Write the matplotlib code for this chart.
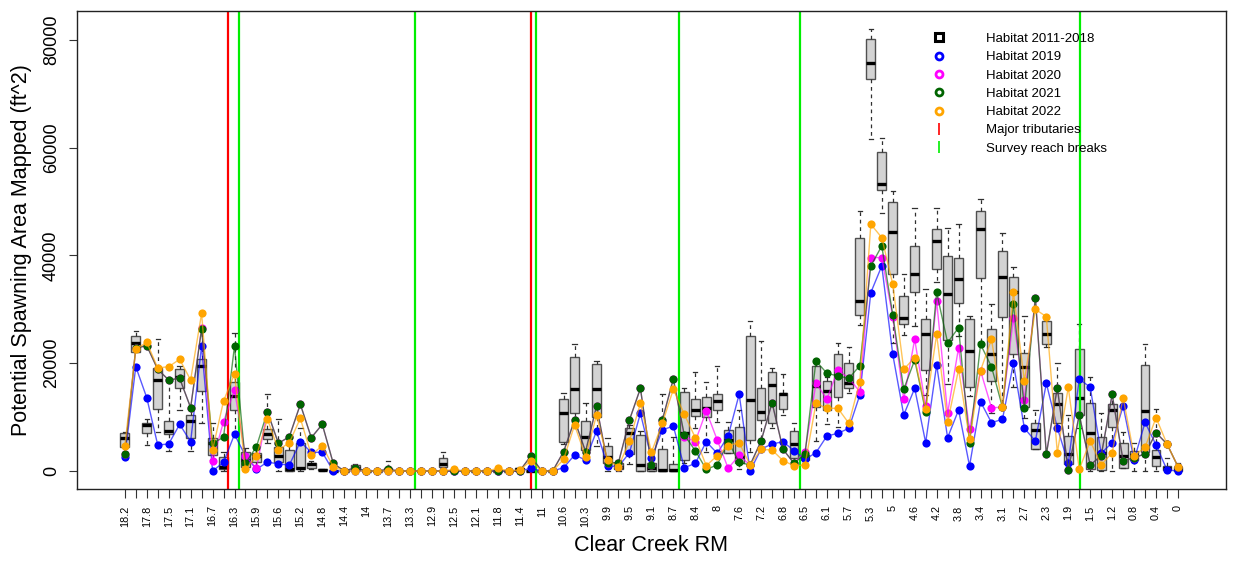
import numpy as np
import matplotlib
matplotlib.use("Agg")
import matplotlib.pyplot as plt
from matplotlib.lines import Line2D

plt.rcParams['font.family'] = ['Liberation Sans', 'DejaVu Sans']

# river mile of each 1000 ft survey section, upstream to downstream
rm_labels = ['18.2', '18', '17.8', '17.6', '17.5', '17.3', '17.1', '16.9', '16.7', '16.5',
             '16.3', '16.1', '15.9', '15.8', '15.6', '15.4', '15.2', '15', '14.8', '14.6',
             '14.4', '14.2', '14', '13.9', '13.7', '13.5', '13.3', '13.1', '12.9', '12.7',
             '12.5', '12.3', '12.1', '12', '11.8', '11.6', '11.4', '11.2', '11', '10.8',
             '10.6', '10.5', '10.3', '10.1', '9.9', '9.7', '9.5', '9.3', '9.1', '8.9',
             '8.7', '8.6', '8.4', '8.2', '8', '7.8', '7.6', '7.4', '7.2', '7',
             '6.8', '6.7', '6.5', '6.3', '6.1', '5.9', '5.7', '5.5', '5.3', '5.1',
             '5', '4.8', '4.6', '4.4', '4.2', '4', '3.8', '3.6', '3.4', '3.3',
             '3.1', '2.9', '2.7', '2.5', '2.3', '2.1', '1.9', '1.7', '1.5', '1.4',
             '1.2', '1', '0.8', '0.6', '0.4', '0.2', '0']

# 2011-2018 summary per section (whisker low, Q1, median, Q3, whisker high)
box_lo = [4300, 22000, 4830, 7300, 3770, 11320, 3770, 8850, 2000, 0,
          7300, 300, 1000, 5200, 0, 0, 0, 300, 0, 0,
          0, 0, 0, 0, 0, 0, 0, 0, 0, 300,
          0, 0, 0, 0, 0, 0, 0, 0, 0, 0,
          5000, 9000, 3000, 4640, 0, 0, 1300, 0, 0, 0,
          0, 1500, 8000, 3590, 9000, 3280, 370, 3590, 5750, 7920,
          10400, 1000, 1500, 5630, 8660, 8230, 14540, 27100, 61560, 47950,
          23700, 25240, 26910, 14110, 35000, 16080, 25060, 14000, 24000, 10700,
          12000, 15530, 9780, 4000, 23000, 8000, 500, 8000, 0, 0,
          0, 500, 0, 0, 0, 0, 0]
box_q1 = [4500, 22150, 7110, 11450, 6870, 15340, 6190, 14850, 2970, 310,
          11320, 800, 1730, 5880, 1730, 0, 310, 500, 100, 0,
          0, 200, 0, 0, 0, 0, 0, 0, 0, 680,
          0, 0, 0, 0, 0, 0, 0, 0, 0, 0,
          5440, 10830, 3900, 10080, 1420, 310, 3090, 0, 0, 0,
          0, 2040, 10210, 9960, 11320, 3280, 1420, 5750, 9470, 8850,
          11450, 2350, 2000, 11820, 11320, 13670, 15340, 28950, 72760, 52150,
          36500, 27220, 33290, 18750, 37490, 24310, 31120, 15530, 35880, 16700,
          28640, 21720, 11940, 4080, 23510, 8970, 1240, 10390, 310, 190,
          8100, 620, 2040, 3590, 990, 100, 0]
box_med = [6100, 23700, 8600, 16890, 7420, 17380, 9340, 19550, 5130, 680,
           13920, 2040, 2780, 6800, 2780, 300, 500, 1240, 200, 0,
           0, 500, 0, 0, 300, 0, 0, 0, 0, 1300,
           0, 0, 0, 0, 0, 0, 300, 0, 0, 0,
           10830, 15160, 6370, 15160, 2660, 800, 7110, 1110, 620, 150,
           150, 7110, 11320, 11630, 12990, 5750, 2660, 13180, 11010, 15960,
           14230, 4950, 2500, 15780, 14910, 17820, 16270, 31550, 75790, 53200,
           44360, 28460, 36560, 25430, 42750, 32790, 35700, 22330, 44920, 21720,
           36070, 33160, 19360, 7610, 25430, 12370, 3150, 13490, 6990, 3280,
           11320, 2780, 2970, 11140, 2660, 500, 300]
box_q3 = [7000, 25060, 8970, 19180, 9340, 18930, 10390, 20790, 6190, 2660,
          16580, 3590, 3280, 7730, 4520, 3900, 5130, 1550, 300, 0,
          0, 1110, 0, 0, 500, 0, 0, 0, 0, 2350,
          0, 0, 0, 0, 0, 0, 500, 0, 0, 0,
          13430, 21220, 9220, 19800, 4640, 1550, 7920, 6680, 1550, 4080,
          1300, 14600, 13300, 13800, 14230, 7610, 8100, 25120, 15340, 18310,
          14540, 7480, 3000, 19490, 16700, 21650, 19980, 43180, 80120, 59270,
          49990, 32540, 41820, 28150, 44850, 39970, 39470, 28210, 48320, 26360,
          40890, 35950, 21840, 8850, 27900, 14420, 6500, 22640, 12560, 6370,
          12430, 5260, 3770, 19670, 3900, 990, 800]
box_hi = [7300, 26050, 9680, 24500, 17000, 19500, 11500, 26000, 8850, 3500,
          25550, 4200, 4000, 14230, 9650, 5000, 8000, 1800, 400, 0,
          0, 1300, 0, 0, 1920, 0, 0, 0, 0, 3590,
          0, 0, 0, 0, 0, 0, 700, 0, 0, 0,
          14500, 23570, 12680, 20420, 6190, 2000, 8500, 7500, 2000, 14230,
          6370, 15340, 18440, 16580, 19550, 9000, 11320, 27900, 24190, 19050,
          18000, 8850, 3500, 20500, 17500, 23700, 22950, 48320, 82040, 61740,
          52030, 36560, 48750, 33720, 48870, 45040, 45840, 28830, 50420, 30930,
          44230, 37800, 28770, 11320, 28500, 19980, 10390, 27280, 17510, 10700,
          14000, 7300, 5130, 23570, 11450, 2350, 1550]

hab_2019 = [2540, 19360, 13610, 4830, 5010, 8660, 5440, 23200, 0, 1610,
            6800, 2780, 310, 1670, 1300, 1110, 5440, 3470, 3470, 0,
            0, 0, 0, 0, 0, 0, 0, 0, 0, 0,
            0, 0, 0, 0, 0, 0, 0, 500, 0, 0,
            620, 2970, 2040, 7420, 990, 800, 3400, 10700, 2350, 7610,
            8350, 620, 1400, 5440, 3280, 6500, 14230, 0, 4080, 5010,
            5440, 3770, 2160, 3400, 6500, 6990, 7920, 14110, 33100, 38050,
            21650, 10390, 15340, 5260, 19670, 6190, 11320, 930, 12870, 8970,
            9590, 19980, 7920, 5570, 16270, 8040, 1420, 17080, 15530, 3280,
            5260, 12060, 2040, 9030, 4830, 190, 0]
hab_2020 = [3100, 22800, 23260, 18860, 16890, 17200, 11750, 26500, 1860, 9160,
            15030, 2780, 500, 11010, 5130, 6370, 12370, 6190, 8660, 1420,
            0, 600, 0, 0, 310, 0, 0, 0, 0, 0,
            0, 0, 0, 0, 0, 0, 0, 2780, 0, 0,
            3590, 9470, 3590, 12060, 1500, 1550, 9470, 15340, 1110, 9470,
            17080, 6370, 5440, 11140, 5750, 500, 2910, 1110, 5570, 12680,
            4020, 1420, 3590, 16270, 13360, 18750, 17200, 14720, 39600, 39600,
            28640, 13300, 24440, 12000, 31550, 10700, 22890, 7730, 18620, 11750,
            11820, 28460, 13180, 32170, 3090, 15470, 190, 10390, 1110, 2850,
            14230, 1860, 2500, 3150, 7110, 5010, 800]
hab_2021 = [3100, 22800, 23260, 18860, 16890, 17200, 11750, 26360, 5130, 6250,
            23200, 1420, 4520, 11010, 5130, 6370, 12370, 6190, 8660, 1420,
            0, 600, 0, 0, 310, 0, 0, 0, 0, 0,
            0, 0, 0, 0, 0, 0, 0, 2780, 0, 0,
            3590, 9470, 3590, 12060, 1500, 1550, 9470, 15340, 1110, 9470,
            17080, 6680, 3770, 310, 1110, 5440, 1610, 1110, 5570, 12680,
            4020, 1420, 3150, 20420, 18130, 17630, 17200, 19550, 38050, 41760,
            29000, 15160, 20600, 11010, 33160, 23820, 26600, 5130, 23510, 19360,
            11820, 31000, 11630, 32170, 3090, 15470, 190, 10390, 1110, 2850,
            14230, 1860, 2500, 3150, 7110, 5010, 800]
hab_2022 = [4640, 22580, 23880, 19120, 19360, 20720, 16890, 29260, 3900, 12990,
            18000, 310, 2780, 9650, 3900, 5260, 9780, 2970, 4700, 770,
            0, 0, 0, 0, 0, 0, 0, 0, 0, 0,
            300, 0, 0, 0, 500, 0, 200, 1860, 0, 0,
            2160, 8540, 2660, 10390, 2040, 800, 5570, 12560, 3470, 8850,
            15160, 10520, 6190, 990, 2850, 4700, 5260, 1110, 4000, 3900,
            1920, 990, 1110, 12560, 11630, 11630, 8850, 16580, 45780, 43310,
            34650, 18870, 21030, 11450, 25360, 9030, 18870, 5880, 18620, 24440,
            11820, 33160, 16700, 30000, 28640, 3400, 15530, 310, 5570, 1110,
            3400, 13610, 2850, 4390, 9900, 5010, 800]

# section-index positions of the vertical markers
tributaries = [9.43, 37.0]
reach_breaks = [10.43, 26.42, 37.45, 50.52, 61.53, 87.03]

n = len(rm_labels)
pos = np.arange(n)

fig = plt.figure(figsize=(12.48, 5.64), dpi=100)
ax = fig.add_axes([0.0615, 0.1324, 0.9209, 0.8476])

stats = []
for i in range(n):
    stats.append(dict(whislo=box_lo[i], q1=box_q1[i], med=box_med[i],
                      q3=box_q3[i], whishi=box_hi[i], fliers=[]))

ax.bxp(stats, positions=pos, widths=0.8, patch_artist=True, showfliers=False,
       boxprops=dict(facecolor='#d3d3d3', edgecolor='#505050', linewidth=1.0),
       medianprops=dict(color='black', linewidth=2.4, solid_capstyle='butt'),
       whiskerprops=dict(color='#303030', linewidth=0.9, linestyle=(0, (3, 3))),
       capprops=dict(color='#303030', linewidth=0.9), capwidths=0.4,
       manage_ticks=False, zorder=2)

for x in tributaries:
    ax.axvline(x, color='red', linewidth=1.6, zorder=2.5)
for x in reach_breaks:
    ax.axvline(x, color='#00ee00', linewidth=1.6, zorder=2.5)

series = [(hab_2019, 'blue'), (hab_2020, 'magenta'),
          (hab_2021, '#006400'), (hab_2022, 'orange')]
for k, (vals, col) in enumerate(series):
    ax.plot(pos, vals, color=col, linewidth=1.0, alpha=0.65, zorder=3 + k)
    ax.plot(pos, vals, linestyle='none', marker='o', markersize=5.9,
            color=col, markeredgewidth=0, zorder=3 + k)

ax.set_xlim(-4.38, n - 1 + 4.38)
ax.set_ylim(-3400, 85300)

ax.set_xticks(pos)
ax.set_xticklabels([lab if i % 2 == 0 else '' for i, lab in enumerate(rm_labels)],
                   rotation=90, fontsize=7.8)
ax.set_yticks([0, 20000, 40000, 60000, 80000])
ax.set_yticklabels(['0', '20000', '40000', '60000', '80000'], rotation=90,
                   va='center', fontsize=13)
ax.tick_params(axis='x', length=6.5, width=0.8, pad=5, color='#333333')
ax.tick_params(axis='y', length=6, width=0.8, pad=6, color='#333333')
for s in ax.spines.values():
    s.set_linewidth(1.0)
    s.set_color('#222222')

ax.set_xlabel('Clear Creek RM', fontsize=15.5, labelpad=6)
ax.set_ylabel('Potential Spawning Area Mapped (ft^2)', fontsize=15.5, labelpad=8)

handles = [
    Line2D([], [], linestyle='none', marker='s', markersize=5.5, markerfacecolor='none',
           markeredgecolor='black', markeredgewidth=2.2),
    Line2D([], [], linestyle='none', marker='o', markersize=5, markerfacecolor='none',
           markeredgecolor='blue', markeredgewidth=2),
    Line2D([], [], linestyle='none', marker='o', markersize=5, markerfacecolor='none',
           markeredgecolor='magenta', markeredgewidth=2),
    Line2D([], [], linestyle='none', marker='o', markersize=5, markerfacecolor='none',
           markeredgecolor='#006400', markeredgewidth=2),
    Line2D([], [], linestyle='none', marker='o', markersize=5, markerfacecolor='none',
           markeredgecolor='orange', markeredgewidth=2),
    Line2D([], [], linestyle='none', marker='|', markersize=8, color='red', markeredgewidth=1.2),
    Line2D([], [], linestyle='none', marker='|', markersize=8, color='#00ee00', markeredgewidth=1.2),
]
labels = ['Habitat 2011-2018', 'Habitat 2019', 'Habitat 2020', 'Habitat 2021',
          'Habitat 2022', 'Major tributaries', 'Survey reach breaks']
ax.legend(handles, labels, loc='upper left', bbox_to_anchor=(0.7447, 0.9552),
          frameon=False, fontsize=9.5, handlelength=1.0, handletextpad=3.06,
          borderpad=0, borderaxespad=0, labelspacing=0.46)

fig.savefig('out.png', dpi=100)
